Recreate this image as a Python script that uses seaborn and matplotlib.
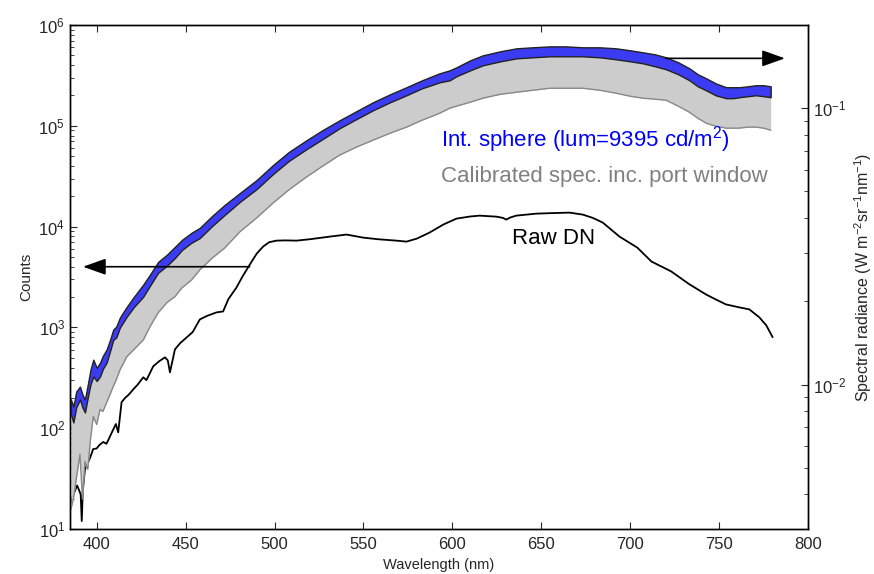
import numpy as np
import matplotlib
matplotlib.use("Agg")
import matplotlib.pyplot as plt
from matplotlib.ticker import NullLocator
import seaborn as sns

# raw detector counts (left axis)
wl_raw = [385.3, 386.5, 387.8, 389.0, 390.2, 391.0, 391.6, 392.2, 393.4, 395.0,
          396.5, 398.0, 400.0, 401.5, 403.7, 405.5, 407.5, 409.3, 410.8, 412.1,
          414.0, 416.0, 418.0, 420.6, 423.0, 426.2, 428.0, 431.8, 435.0, 438.4,
          440.0, 441.2, 444.0, 447.0, 450.6, 454.0, 458.0, 462.0, 467.4, 471.1,
          474.0, 478.6, 482.0, 486.1, 490.0, 493.6, 497.0, 501.1, 506.0, 512.4,
          520.0, 531.1, 540.5, 549.8, 558.0, 568.5, 574.2, 580.0, 587.2, 595.0,
          602.3, 610.0, 615.3, 624.7, 628.5, 630.3, 632.5, 635.9, 647.2, 655.0,
          665.9, 673.4, 679.0, 684.6, 694.0, 704.0, 712.0, 723.0, 733.0, 742.7,
          748.0, 753.9, 761.4, 767.0, 772.6, 776.5, 780.1]
raw_dn = [18, 21, 24, 27, 24, 22, 12, 24, 39, 45,
          52, 62, 63, 68, 73, 70, 83, 97, 110, 91,
          181, 200, 215, 243, 270, 320, 300, 411, 460, 505,
          470, 358, 605, 700, 796, 900, 1200, 1300, 1410, 1440,
          1900, 2490, 3200, 4200, 5400, 6340, 7000, 7260, 7300, 7260,
          7500, 7960, 8340, 7780, 7500, 7260, 7100, 7600, 8730, 10500,
          12000, 12600, 12850, 12560, 12200, 11730, 12300, 12850, 13450, 13600,
          13770, 13150, 12200, 10960, 7960, 6190, 4500, 3600, 2700, 2120,
          1900, 1690, 1580, 1510, 1260, 1050, 800]

# spectral radiance bands (right axis)
wl_band = [385.5, 386.9, 388.5, 390.6, 392.0, 393.4, 395.0, 396.5, 398.1, 400.0,
           401.9, 403.5, 405.6, 407.5, 409.3, 411.0, 413.1, 416.9, 421.0, 426.2,
           430.0, 434.6, 439.5, 444.0, 448.0, 453.3, 458.0, 465.0, 472.0, 480.5,
           490.0, 499.2, 508.0, 518.0, 527.0, 536.7, 546.0, 555.4, 565.0, 574.2,
           583.0, 592.9, 598.5, 602.3, 610.0, 617.2, 627.0, 636.0, 645.0, 654.7,
           664.0, 673.4, 683.0, 692.1, 700.0, 707.1, 714.0, 720.2, 727.0, 733.3,
           738.0, 742.7, 748.0, 753.9, 758.0, 761.4, 766.0, 770.8, 775.0, 779.0]
sphere_hi = [0.00883, 0.00833, 0.00943, 0.00983, 0.00920, 0.00883, 0.0100, 0.0113, 0.0123, 0.0115,
             0.0120, 0.0127, 0.0134, 0.0145, 0.0158, 0.0162, 0.0175, 0.0191, 0.0208, 0.0230,
             0.0250, 0.0278, 0.0295, 0.0315, 0.0334, 0.0354, 0.0369, 0.0408, 0.0447, 0.0493,
             0.0550, 0.0623, 0.0694, 0.0766, 0.0833, 0.0905, 0.0975, 0.1051, 0.1123, 0.1191,
             0.1262, 0.1338, 0.1371, 0.1406, 0.1490, 0.1554, 0.1607, 0.1647, 0.1661, 0.1674,
             0.1674, 0.1661, 0.1661, 0.1647, 0.1620, 0.1593, 0.1566, 0.1528, 0.1466, 0.1394,
             0.1327, 0.1283, 0.1231, 0.1191, 0.1191, 0.1191, 0.1200, 0.1211, 0.1211, 0.1200]
sphere_lo = [0.00779, 0.00729, 0.00826, 0.00883, 0.00826, 0.00792, 0.00898, 0.0100, 0.0107, 0.0103,
             0.0107, 0.0114, 0.0120, 0.0132, 0.0145, 0.0148, 0.0161, 0.0176, 0.0191, 0.0208,
             0.0228, 0.0254, 0.0269, 0.0287, 0.0307, 0.0326, 0.0339, 0.0375, 0.0411, 0.0458,
             0.0510, 0.0578, 0.0644, 0.0711, 0.0773, 0.0847, 0.0913, 0.0983, 0.1051, 0.1114,
             0.1181, 0.1241, 0.1262, 0.1305, 0.1371, 0.1430, 0.1478, 0.1515, 0.1528, 0.1541,
             0.1541, 0.1541, 0.1528, 0.1503, 0.1478, 0.1454, 0.1418, 0.1383, 0.1327, 0.1262,
             0.1200, 0.1161, 0.1114, 0.1087, 0.1087, 0.1096, 0.1105, 0.1114, 0.1105, 0.1096]
calib_lo = [0.00354, 0.00385, 0.00454, 0.00559, 0.00385, 0.00527, 0.00493, 0.00633, 0.00766, 0.00717,
            0.00812, 0.00799, 0.00861, 0.00920, 0.00983, 0.0104, 0.0113, 0.0126, 0.0134, 0.0145,
            0.0162, 0.0182, 0.0198, 0.0208, 0.0224, 0.0239, 0.0260, 0.0287, 0.0312, 0.0357,
            0.0401, 0.0454, 0.0506, 0.0564, 0.0617, 0.0677, 0.0723, 0.0766, 0.0812, 0.0854,
            0.0905, 0.0959, 0.1000, 0.1017, 0.1051, 0.1087, 0.1123, 0.1142, 0.1161, 0.1181,
            0.1181, 0.1181, 0.1161, 0.1133, 0.1105, 0.1087, 0.1078, 0.1069, 0.1017, 0.0967,
            0.0920, 0.0883, 0.0861, 0.0847, 0.0847, 0.0847, 0.0854, 0.0854, 0.0847, 0.0833]

sns.set_style("ticks", {"xtick.direction": "in", "ytick.direction": "in"})
plt.rcParams["font.family"] = ["Liberation Sans", "DejaVu Sans"]
plt.rcParams["mathtext.fontset"] = "custom"
plt.rcParams["mathtext.rm"] = "Liberation Sans"
plt.rcParams["mathtext.it"] = "Liberation Sans:italic"
plt.rcParams["mathtext.default"] = "regular"

fig = plt.figure(figsize=(8.74, 5.74), dpi=100)
ax = fig.add_axes([0.0801, 0.0784, 0.8444, 0.878])
ax2 = ax.twinx()

# raw counts
sns.lineplot(x=wl_raw, y=raw_dn, ax=ax, color="black", lw=1.3)
ax.set_yscale("log")
ax.set_ylim(10, 1e6)
ax.set_xlim(385, 800)
ax.set_xticks(range(400, 801, 50))
ax.xaxis.set_minor_locator(NullLocator())
ax.set_xlabel("Wavelength (nm)", fontsize=10.5)
ax.set_ylabel("Counts", fontsize=11)
ax.tick_params(axis="both", which="both", direction="in", labelsize=12)
ax.tick_params(axis="x", top=True, pad=6, length=5)
ax.tick_params(axis="y", which="major", length=5)
ax.tick_params(axis="y", which="minor", length=3)

# radiance bands
ax2.fill_between(wl_band, calib_lo, sphere_hi, color="#cccccc", lw=0, zorder=1)
sns.lineplot(x=wl_band, y=calib_lo, ax=ax2, color="#888888", lw=1.0, zorder=2)
ax2.fill_between(wl_band, sphere_lo, sphere_hi, facecolor="#3b3bf2",
                 edgecolor="#222222", lw=1.0, zorder=3)
ax2.set_yscale("log")
ax2.set_ylim(0.003, 0.2)
ax2.set_ylabel("Spectral radiance (W m$^{-2}$sr$^{-1}$nm$^{-1}$)", fontsize=11.5)
ax2.tick_params(axis="y", which="both", direction="in", labelsize=12)
ax2.tick_params(axis="y", which="major", length=5)
ax2.tick_params(axis="y", which="minor", length=3)

for a in (ax, ax2):
    for s in a.spines.values():
        s.set_visible(True)
        s.set_linewidth(1.0)
        s.set_color("black")

arrow = dict(arrowstyle="-|>,head_length=0.7,head_width=0.25", color="black",
             lw=1.2, mutation_scale=20, shrinkA=0, shrinkB=0)
ax2.annotate("", xy=(392.3, 4000), xycoords=ax.transData,
             xytext=(486, 4000), textcoords=ax.transData, arrowprops=arrow, zorder=5)
ax2.annotate("", xy=(787, 0.1515), xytext=(720, 0.1515), arrowprops=arrow, zorder=5)

ax2.text(0.503, 0.772, "Int. sphere (lum=9395 cd/m$^2$)", transform=ax2.transAxes,
         color="blue", fontsize=16, va="center", ha="left")
ax2.text(0.503, 0.700, "Calibrated spec. inc. port window", transform=ax2.transAxes,
         color="#808080", fontsize=16, va="center", ha="left")
ax2.text(0.599, 0.577, "Raw DN", transform=ax2.transAxes,
         color="black", fontsize=16, va="center", ha="left")

fig.savefig("out.png", dpi=100)
